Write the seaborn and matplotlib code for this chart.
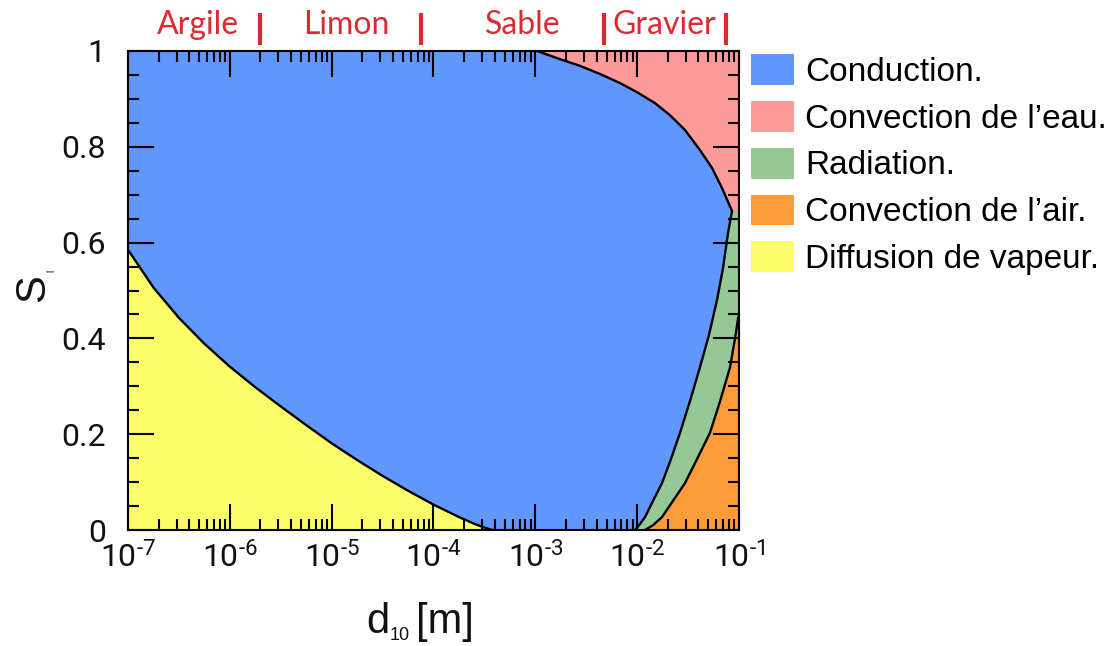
import numpy as np
import pandas as pd
import seaborn as sns
import matplotlib
matplotlib.use("Agg")
import matplotlib.pyplot as plt
from matplotlib.patches import Patch
from matplotlib import ticker

# --- regime boundaries in the (d10, S_l) plane ---
# vapour diffusion / conduction
d_vapour = [1.0e-7, 1.78e-7, 3.16e-7, 5.62e-7, 1.0e-6, 1.78e-6, 3.16e-6, 5.62e-6, 1.0e-5,
            1.78e-5, 3.16e-5, 5.62e-5, 1.0e-4, 1.78e-4, 2.51e-4, 3.16e-4, 3.8e-4]
s_vapour = [0.585, 0.506, 0.443, 0.389, 0.341, 0.298, 0.258, 0.219, 0.181,
            0.146, 0.113, 0.082, 0.053, 0.027, 0.013, 0.005, 0.0]

# conduction / water convection
d_water = [1.04e-3, 1.746e-3, 2.75e-3, 4.32e-3, 6.79e-3, 9.97e-3, 1.50e-2,
           2.10e-2, 2.95e-2, 4.14e-2, 5.43e-2, 6.81e-2, 8.54e-2]
s_water = [1.0, 0.983, 0.969, 0.952, 0.933, 0.914, 0.891,
           0.866, 0.835, 0.793, 0.756, 0.714, 0.666]

# conduction / radiation
d_rad = [9.53e-3, 1.067e-2, 1.194e-2, 1.432e-2, 1.754e-2, 2.148e-2, 2.636e-2, 3.30e-2,
         4.14e-2, 5.07e-2, 6.08e-2, 6.97e-2, 7.80e-2, 8.54e-2]
s_rad = [0.0, 0.0125, 0.027, 0.061, 0.098, 0.148, 0.203, 0.269,
         0.340, 0.407, 0.480, 0.547, 0.620, 0.666]

# radiation / air convection
d_air = [1.194e-2, 1.432e-2, 1.754e-2, 2.25e-2, 2.95e-2, 3.87e-2, 5.19e-2, 6.52e-2,
         8.17e-2, 9.14e-2, 9.85e-2]
s_air = [0.0, 0.010, 0.027, 0.061, 0.098, 0.148, 0.203, 0.269,
         0.340, 0.400, 0.445]

# soil classes along the grain-size axis
soil_names = ["Argile", "Limon", "Sable", "Gravier"]
soil_label_d = [4.9e-7, 1.4e-5, 7.6e-4, 1.84e-2]
soil_limits = [2e-6, 7.5e-5, 4.75e-3, 7.5e-2]

regime_names = ["Conduction.", "Convection de l\u2019eau.", "Radiation.",
                "Convection de l\u2019air.", "Diffusion de vapeur."]
regime_colors = ["#6196fc", "#fd9a9a", "#96c896", "#fd9a3a", "#fdfd6a"]

D_MIN, D_MAX = 1e-7, 1e-1

sns.set_theme(style="ticks")
plt.rcParams["font.family"] = ["Liberation Sans", "DejaVu Sans"]
plt.rcParams["mathtext.fontset"] = "custom"
plt.rcParams["mathtext.rm"] = "Roboto"
plt.rcParams["mathtext.it"] = "Roboto:italic"
plt.rcParams["mathtext.bf"] = "Roboto:bold"
plt.rcParams["mathtext.default"] = "rm"

W, H = 1118, 646
fig = plt.figure(figsize=(W / 100, H / 100), dpi=100)
ax_l, ax_r, ax_t, ax_b = 128, 739, 51, 530
ax = fig.add_axes([ax_l / W, 1 - ax_b / H, (ax_r - ax_l) / W, (ax_b - ax_t) / H])
ax.set_xscale("log")
ax.set_xlim(D_MIN, D_MAX)
ax.set_ylim(0, 1)
ax.set_facecolor(regime_colors[0])

# filled regimes
ax.fill_between(d_vapour, 0, s_vapour, color=regime_colors[4], lw=0)
ax.fill_betweenx(s_water, d_water, D_MAX, color=regime_colors[1], lw=0)
ax.fill_betweenx(s_rad, d_rad, D_MAX, color=regime_colors[2], lw=0)
ax.fill_betweenx(s_air, d_air, D_MAX, color=regime_colors[3], lw=0)

# boundary curves
for dx, sy in [(d_vapour, s_vapour), (d_water, s_water), (d_rad, s_rad), (d_air, s_air)]:
    df = pd.DataFrame({"d": dx, "s": sy})
    sns.lineplot(data=df, x="d", y="s", ax=ax, color="black", lw=1.7,
                 estimator=None, sort=False)

ax.set_xlabel("")
ax.set_ylabel("")
ax.set_axisbelow(False)

# axes frame and ticks
for sp in ax.spines.values():
    sp.set_color("black")
    sp.set_linewidth(1.5)
    sp.set_visible(True)
ax.xaxis.set_major_locator(ticker.LogLocator(base=10, numticks=20))
ax.xaxis.set_minor_locator(ticker.LogLocator(base=10, subs=np.arange(2, 10), numticks=20))
ax.xaxis.set_minor_formatter(ticker.NullFormatter())
ax.xaxis.set_major_formatter(ticker.FuncFormatter(
    lambda v, p: r"$10^{\text{-}%d}$" % abs(int(round(np.log10(v))))))
ax.yaxis.set_major_locator(ticker.MultipleLocator(0.2))
ax.yaxis.set_minor_locator(ticker.MultipleLocator(0.05))
ax.yaxis.set_major_formatter(ticker.FuncFormatter(lambda v, p: f"{v:g}"))
ax.tick_params(which="both", direction="in", top=True, right=True,
               color="black", width=1.5, labelcolor="#111111",
               labelfontfamily="Roboto", labelsize=23)
ax.tick_params(which="major", length=19)
ax.tick_params(which="minor", length=8)
ax.tick_params(axis="x", which="major", pad=8)
ax.tick_params(axis="y", which="major", pad=16)
ax.grid(False)

# soil class labels and their limits above the frame
red = "#dc2a32"
xt = ax.get_xaxis_transform()
for name, d in zip(soil_names, soil_label_d):
    ax.text(d, 1.0355, name, transform=xt, ha="center", va="baseline",
            color=red, fontsize=23, family=["Lato", "DejaVu Sans"], clip_on=False)
for d in soil_limits:
    ax.plot([d, d], [1.0125, 1.079], transform=xt, color=red, lw=3,
            solid_capstyle="butt", clip_on=False)

# axis titles
fig.text(33 / W, 1 - 288 / H, "S", rotation=90, ha="center", va="center",
         fontsize=30, color="#111111")
fig.text(51 / W, 1 - 271 / H, "l", rotation=90, ha="center", va="center",
         fontsize=7, color="#111111")
fig.text(378 / W, 1 - 622 / H, "d", ha="center", va="center", fontsize=30, color="#111111")
fig.text(400 / W, 1 - 635 / H, "10", ha="center", va="center", fontsize=13, color="#111111")
fig.text(445 / W, 1 - 622 / H, "[m]", ha="center", va="center", fontsize=30, color="#111111")

# legend
handles = [Patch(facecolor=c, edgecolor="none") for c in regime_colors]
leg = fig.legend(handles, regime_names, loc="upper left",
                 bbox_to_anchor=(751 / W, 1 - 54 / H), frameon=False, fontsize=24,
                 handlelength=1.3, handleheight=1.05, handletextpad=0.33,
                 labelspacing=0.39, borderaxespad=0, borderpad=0)
for t in leg.get_texts():
    t.set_color("black")

fig.savefig("out.png", dpi=100, facecolor="white")
